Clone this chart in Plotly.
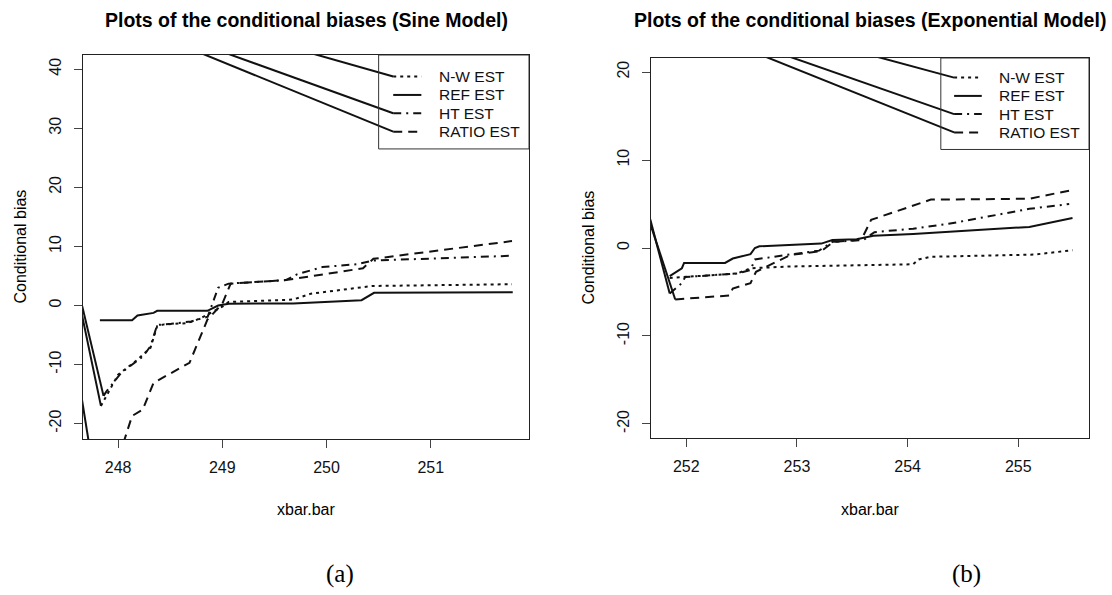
import plotly.graph_objects as go

# ---------------- Sine model: conditional bias vs xbar.bar ----------------
sine_nw_x = [247.835, 248.00, 248.17, 248.31, 248.375, 248.44, 248.65, 248.72, 248.82, 249.00, 249.06, 249.68, 249.85, 250.30, 250.44, 251.78]
sine_nw_y = [-17.0, -11.7, -9.4, -7.2, -3.5, -3.2, -3.0, -2.7, -1.9, -0.2, 0.6, 1.0, 2.0, 2.9, 3.3, 3.6]

sine_ref_x = [247.825, 248.134, 248.186, 248.34, 248.375, 248.857, 248.96, 249.063, 249.68, 250.336, 250.456, 251.787]
sine_ref_y = [-2.5, -2.5, -1.7, -1.25, -0.9, -0.9, 0.0, 0.3, 0.35, 0.9, 2.15, 2.25]

sine_ht_x = [247.86, 247.89, 248.03, 248.24, 248.31, 248.375, 248.51, 248.70, 248.86, 248.96, 249.06, 249.61, 249.72, 249.96, 250.30, 250.44, 251.75]
sine_ht_y = [-15.3, -14.5, -11.4, -8.6, -6.9, -3.3, -3.1, -2.7, -1.9, 3.0, 3.7, 4.3, 5.3, 6.5, 7.0, 7.6, 8.4]

sine_ratio_x = [247.83, 248.134, 248.237, 248.34, 248.685, 248.857, 249.00, 249.08, 249.61, 249.72, 250.35, 250.45, 251.78]
sine_ratio_y = [-35.4, -18.7, -17.6, -13.1, -9.7, -2.4, 0.3, 3.7, 4.3, 4.6, 6.3, 7.9, 10.9]

# solid lead-in strokes (N-W, HT, RATIO) into each curve's first point and into its key
sine_start_lead_x = [247.60, 247.60, 247.60]
sine_start_lead_y = [2.9, 4.0, -10.1]
sine_key_lead_x = [248.5, 248.0, 248.0]
sine_key_lead_y = [49.5, 49.3, 48.45]

sine_xticks = [248, 249, 250, 251]
sine_yticks = [-20, -10, 0, 10, 20, 30, 40]

# ---------------- Exponential model ----------------
exp_nw_x = [251.85, 252.46, 252.58, 252.94, 254.05, 254.10, 254.21, 255.14, 255.49]
exp_nw_y = [-3.4, -2.9, -2.3, -2.1, -1.85, -1.3, -1.0, -0.75, -0.26]

exp_ref_x = [251.85, 251.96, 251.98, 252.35, 252.42, 252.58, 252.62, 252.66, 253.22, 253.32, 253.54, 253.69, 254.05, 255.10, 255.49]
exp_ref_y = [-3.2, -2.3, -1.7, -1.7, -1.2, -0.7, 0.0, 0.2, 0.5, 0.9, 1.0, 1.4, 1.6, 2.4, 3.4]

exp_ht_x = [251.85, 251.96, 251.99, 252.46, 252.58, 252.62, 252.90, 253.20, 253.32, 253.60, 253.70, 254.05, 254.37, 254.69, 255.10, 255.46]
exp_ht_y = [-5.17, -4.0, -3.3, -2.9, -2.5, -1.3, -0.8, -0.3, 0.7, 0.9, 1.8, 2.2, 2.75, 3.5, 4.45, 5.0]

exp_ratio_x = [251.90, 252.39, 252.42, 252.58, 252.63, 252.94, 253.22, 253.33, 253.54, 253.60, 253.67, 254.08, 254.21, 255.10, 255.49]
exp_ratio_y = [-5.85, -5.4, -4.6, -4.0, -2.7, -0.8, -0.35, 0.7, 0.9, 1.4, 3.2, 5.0, 5.5, 5.6, 6.6]

# lead-in strokes: start leads for HT, RATIO; key leads for N-W, HT, RATIO
exp_start_lead_x = [251.60, 251.60]
exp_start_lead_y = [6.8, 5.6]
exp_key_lead_x = [252.5, 252.0, 252.0]
exp_key_lead_y = [25.9, 25.85, 25.36]

exp_xticks = [252, 253, 254, 255]
exp_yticks = [-20, -10, 0, 10, 20]

labels = ["N-W EST", "REF EST", "HT EST", "RATIO EST"]

# ---------------- styling / layout constants ----------------
W, H = 1112, 595
FONT = "Liberation Sans, Arial, Helvetica, sans-serif"
INK = "#111111"
DASH = {"N-W EST": "3px,4px", "REF EST": "solid", "HT EST": "8px,5px,2px,5px", "RATIO EST": "9px,6px"}
LW = 2

SINE_RANGE_X = [247.663, 251.943]
SINE_RANGE_Y = [-22.6, 42.4]
EXP_RANGE_X = [251.681, 255.639]
EXP_RANGE_Y = [-21.6, 21.6]

# plot boxes in pixels: (left, right, top, bottom)
SINE_BOX = (83, 529, 55, 439)
EXP_BOX = (651, 1089, 58, 438)

SINE_KEY = dict(x0=250.50, y0=26.5, k0=250.64, k1=250.91, tx=251.06, rows=[38.75, 35.64, 32.54, 29.42])
EXP_KEY = dict(x0=254.30, y0=11.2, k0=254.42, k1=254.67, tx=254.81, rows=[19.37, 17.29, 15.22, 13.14])


def xdom(box):
    return [box[0] / W, box[1] / W]


def ydom(box):
    return [(H - box[3]) / H, (H - box[2]) / H]


fig = go.Figure()

panels = [
    dict(xa="x", ya="y",
         series=[(sine_nw_x, sine_nw_y), (sine_ref_x, sine_ref_y), (sine_ht_x, sine_ht_y), (sine_ratio_x, sine_ratio_y)],
         start_idx=[0, 2, 3], start_lx=sine_start_lead_x, start_ly=sine_start_lead_y,
         key_lx=sine_key_lead_x, key_ly=sine_key_lead_y,
         key=SINE_KEY, rx=SINE_RANGE_X, ry=SINE_RANGE_Y),
    dict(xa="x2", ya="y2",
         series=[(exp_nw_x, exp_nw_y), (exp_ref_x, exp_ref_y), (exp_ht_x, exp_ht_y), (exp_ratio_x, exp_ratio_y)],
         start_idx=[2, 3], start_lx=exp_start_lead_x, start_ly=exp_start_lead_y,
         key_lx=exp_key_lead_x, key_ly=exp_key_lead_y,
         key=EXP_KEY, rx=EXP_RANGE_X, ry=EXP_RANGE_Y),
]

shapes = []
annotations = []

for p in panels:
    xa, ya, key = p["xa"], p["ya"], p["key"]
    # the four estimator curves
    for (sx, sy), name in zip(p["series"], labels):
        fig.add_trace(go.Scatter(x=sx, y=sy, mode="lines", name=name, showlegend=False,
                                 xaxis=xa, yaxis=ya, hoverinfo="skip",
                                 line=dict(color=INK, width=LW, dash=DASH[name])))
    # solid strokes running into the first point of a curve
    for i, lx, ly in zip(p["start_idx"], p["start_lx"], p["start_ly"]):
        sx, sy = p["series"][i]
        fig.add_trace(go.Scatter(x=[lx, sx[0]], y=[ly, sy[0]], mode="lines", showlegend=False,
                                 xaxis=xa, yaxis=ya, hoverinfo="skip",
                                 line=dict(color=INK, width=LW)))
    # solid strokes running into the key samples of N-W, HT and RATIO
    for row, lx, ly in zip([0, 2, 3], p["key_lx"], p["key_ly"]):
        fig.add_trace(go.Scatter(x=[lx, key["k0"]], y=[ly, key["rows"][row]], mode="lines", showlegend=False,
                                 xaxis=xa, yaxis=ya, hoverinfo="skip",
                                 line=dict(color=INK, width=LW)))
    # key box, samples and labels
    shapes.append(dict(type="rect", xref=xa, yref=ya, x0=key["x0"], x1=p["rx"][1], y0=key["y0"], y1=p["ry"][1],
                       line=dict(color="#333333", width=1), fillcolor="rgba(0,0,0,0)", layer="above"))
    for name, ry in zip(labels, key["rows"]):
        shapes.append(dict(type="line", xref=xa, yref=ya, x0=key["k0"], x1=key["k1"], y0=ry, y1=ry,
                           line=dict(color=INK, width=LW, dash=DASH[name]), layer="above"))
        annotations.append(dict(xref=xa, yref=ya, x=key["tx"], y=ry, text=name, showarrow=False,
                                xanchor="left", yanchor="middle",
                                font=dict(family=FONT, size=15.5, color=INK)))


def paper(px, py):
    return px / W, 1 - py / H


def add_text(px, py, text, size, angle=0, bold=False, family=FONT):
    x, y = paper(px, py)
    annotations.append(dict(xref="paper", yref="paper", x=x, y=y, text=text, showarrow=False,
                            xanchor="center", yanchor="middle", textangle=angle,
                            font=dict(family=family, size=size, color="#000000",
                                      weight="bold" if bold else "normal")))


for box, title, cap in [(SINE_BOX, "Plots of the conditional biases (Sine Model)", ("(a)", 340)),
                        (EXP_BOX, "Plots of the conditional biases (Exponential Model)", ("(b)", 966))]:
    cx = (box[0] + box[1]) / 2
    add_text(cx, 20, title, 19.5, bold=True)
    add_text(cx, 509, "xbar.bar", 16)
    add_text(box[0] - 63.5, (box[2] + box[3]) / 2, "Conditional bias", 16, angle=-90)
    add_text(cap[1], 574, cap[0], 25, family="Liberation Serif, Times New Roman, serif")


def axis(dom, rng, ticks, anchor, angle=0, standoff=0):
    return dict(domain=dom, range=rng, anchor=anchor, tickmode="array", tickvals=ticks,
                ticktext=[str(t) for t in ticks], ticks="outside", ticklen=8, tickwidth=1.2,
                tickcolor="#444444", showline=True, mirror=True, linecolor="#222222", linewidth=1.3,
                showgrid=False, zeroline=False, tickangle=angle, ticklabelstandoff=standoff,
                tickfont=dict(family=FONT, size=16, color="#111111"), fixedrange=True)


fig.update_layout(
    width=W, height=H, margin=dict(l=0, r=0, t=0, b=0),
    paper_bgcolor="white", plot_bgcolor="white", showlegend=False,
    xaxis=axis(xdom(SINE_BOX), SINE_RANGE_X, sine_xticks, "y", standoff=6),
    yaxis=axis(ydom(SINE_BOX), SINE_RANGE_Y, sine_yticks, "x", angle=-90, standoff=6),
    xaxis2=axis(xdom(EXP_BOX), EXP_RANGE_X, exp_xticks, "y2", standoff=6),
    yaxis2=axis(ydom(EXP_BOX), EXP_RANGE_Y, exp_yticks, "x2", angle=-90, standoff=6),
    shapes=shapes, annotations=annotations,
)

fig.write_html("out.html")
